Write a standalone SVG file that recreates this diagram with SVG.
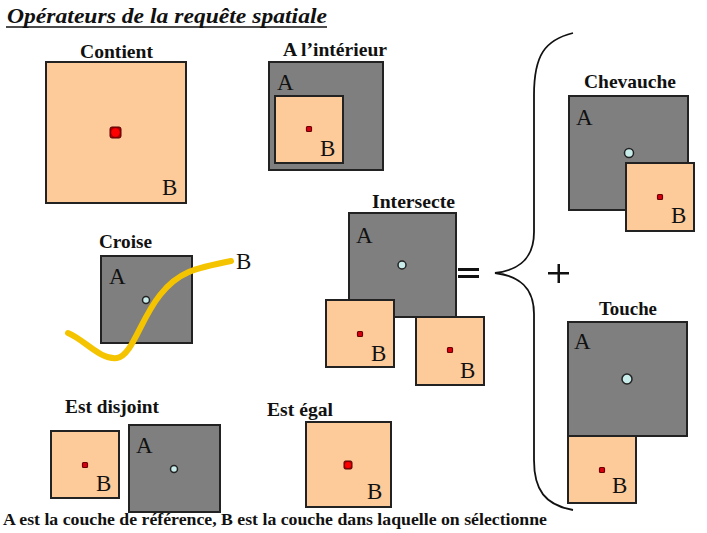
<svg xmlns="http://www.w3.org/2000/svg" width="707" height="533" viewBox="0 0 707 533">
<style>
.lbl{font-family:"Liberation Serif","Times New Roman",serif;font-weight:bold;font-size:19px;fill:#111}
.let{font-family:"Liberation Serif","Times New Roman",serif;font-size:23px;fill:#111}
.a{fill:#7f7f7f;stroke:#222;stroke-width:2}
.b{fill:#fdca9a;stroke:#222;stroke-width:2}
.c{fill:#c8ecea;stroke:#222;stroke-width:1.5}
.r{fill:#d80010;stroke:#6a0000;stroke-width:1.2}
</style>
<rect width="707" height="533" fill="#fff"/>
<text x="7" y="23" font-family="Liberation Serif, serif" font-weight="bold" font-style="italic" font-size="21" fill="#111" textLength="320" lengthAdjust="spacingAndGlyphs">Opérateurs de la requête spatiale</text>
<line x1="6" y1="27" x2="327" y2="27" stroke="#111" stroke-width="1.5"/>

<g id="contient">
<text class="lbl" x="80" y="58" textLength="73" lengthAdjust="spacingAndGlyphs">Contient</text>
<rect class="b" x="46" y="62" width="140" height="141"/>
<rect x="110" y="127" width="11" height="11" rx="2" fill="#a00" stroke="#500"/>
<circle cx="115.5" cy="132.5" r="4.2" fill="#f00"/>
<text class="let" x="162" y="195">B</text>
</g>

<g id="interieur">
<text class="lbl" x="283" y="56" textLength="104" lengthAdjust="spacingAndGlyphs">A l’intérieur</text>
<rect class="a" x="269" y="62" width="114" height="108"/>
<text class="let" x="277" y="90">A</text>
<rect class="b" x="275" y="96" width="68" height="67"/>
<rect class="r" x="306.5" y="126.5" width="5" height="5" rx="1"/>
<text class="let" x="320" y="156">B</text>
</g>

<g id="croise">
<text class="lbl" x="99" y="248" textLength="53" lengthAdjust="spacingAndGlyphs">Croise</text>
<rect class="a" x="101" y="256" width="91" height="87"/>
<text class="let" x="109" y="284">A</text>
<circle class="c" cx="146" cy="300" r="3.5"/>
<path d="M68,333 C85,340 100,360 117,358 C132,356 140,320 160,295 C178,272 195,268 231,261" fill="none" stroke="#f5c400" stroke-width="6" stroke-linecap="round"/>
<text class="let" x="236" y="269">B</text>
</g>

<g id="intersecte">
<text class="lbl" x="372" y="208" textLength="83" lengthAdjust="spacingAndGlyphs">Intersecte</text>
<rect class="a" x="349" y="213" width="107" height="104"/>
<text class="let" x="356" y="243">A</text>
<circle class="c" cx="402" cy="265" r="4"/>
<rect class="b" x="326" y="300" width="68" height="67"/>
<rect class="r" x="357.5" y="331.5" width="5" height="5" rx="1"/>
<text class="let" x="371" y="361">B</text>
<rect class="b" x="416" y="317" width="68" height="68"/>
<rect class="r" x="447.5" y="347.5" width="5" height="5" rx="1"/>
<text class="let" x="460" y="378">B</text>
</g>

<g id="egal-signe">
<rect x="458" y="268" width="21" height="3" fill="#111"/>
<rect x="458" y="275" width="21" height="3" fill="#111"/>
</g>

<g id="accolade">
<path d="M573,33 C545,40 534,55 534,95 L534,232 C534,258 520,270 495,273 C520,276 534,288 534,314 L534,460 C534,490 545,505 573,510" fill="none" stroke="#111" stroke-width="1.8"/>
</g>

<g id="plus">
<rect x="548" y="272" width="21" height="2.5" fill="#111"/>
<rect x="557.5" y="264" width="2.5" height="19" fill="#111"/>
</g>

<g id="chevauche">
<text class="lbl" x="584" y="88" textLength="92" lengthAdjust="spacingAndGlyphs">Chevauche</text>
<rect class="a" x="569" y="96" width="119" height="114"/>
<text class="let" x="576" y="125">A</text>
<circle class="c" cx="629" cy="153" r="4.5"/>
<rect class="b" x="626" y="163" width="68" height="68"/>
<rect class="r" x="657.5" y="194.5" width="5" height="5" rx="1"/>
<text class="let" x="671" y="223">B</text>
</g>

<g id="touche">
<text class="lbl" x="599" y="315" textLength="58" lengthAdjust="spacingAndGlyphs">Touche</text>
<rect class="a" x="568" y="322" width="119" height="114"/>
<text class="let" x="574" y="349">A</text>
<circle class="c" cx="627" cy="379" r="5"/>
<rect class="b" x="568" y="436" width="68" height="67"/>
<rect class="r" x="599.5" y="467.5" width="5" height="5" rx="1"/>
<text class="let" x="612" y="493">B</text>
</g>

<g id="disjoint">
<text class="lbl" x="65" y="413" textLength="94" lengthAdjust="spacingAndGlyphs">Est disjoint</text>
<rect class="b" x="51" y="431" width="68" height="67"/>
<rect class="r" x="82.5" y="462.5" width="5" height="5" rx="1"/>
<text class="let" x="96" y="491">B</text>
<rect class="a" x="129" y="425" width="91" height="87"/>
<text class="let" x="136" y="453">A</text>
<circle class="c" cx="174" cy="469" r="3.5"/>
</g>

<g id="egal">
<text class="lbl" x="267" y="416" textLength="66" lengthAdjust="spacingAndGlyphs">Est égal</text>
<rect class="b" x="306" y="422" width="85" height="85"/>
<rect x="344" y="461" width="8" height="8" rx="1.5" fill="#a00" stroke="#500"/>
<circle cx="348" cy="465" r="3" fill="#f00"/>
<text class="let" x="367" y="499">B</text>
</g>

<text x="3" y="525" font-family="Liberation Serif, serif" font-weight="bold" font-size="16.5" fill="#111" textLength="544" lengthAdjust="spacingAndGlyphs">A est la couche de référence, B est la couche dans laquelle on sélectionne</text>
</svg>
